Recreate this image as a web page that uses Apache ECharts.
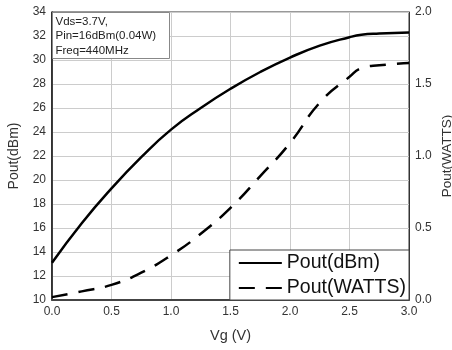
<!DOCTYPE html>
<html><head><meta charset="utf-8">
<script src="https://cdn.jsdelivr.net/npm/echarts@6/dist/echarts.min.js"></script>
<style>html,body{margin:0;padding:0;background:#fff}#c{width:452px;height:350px}</style>
</head><body><div id="c"></div>
<script>
const vg = [0, 0.25, 0.5, 0.75, 1.0, 1.25, 1.5, 1.75, 2.0, 2.25, 2.5, 2.6, 2.75, 3.0];
const poutDbm = [13.1, 16.4, 19.3, 21.9, 24.2, 26.0, 27.6, 29.0, 30.2, 31.2, 31.9, 32.1, 32.2, 32.3];
const poutWatts = [0.02, 0.06, 0.105, 0.19, 0.31, 0.46, 0.64, 0.86, 1.09, 1.37, 1.55, 1.61, 1.63, 1.645];
const annotation = ['Vds=3.7V,', 'Pin=16dBm(0.04W)', 'Freq=440MHz'];

const font = 'Liberation Sans, Arial, sans-serif';
const chart = echarts.init(document.getElementById('c'));
const lab = {color:'#333', fontSize:12, fontFamily:font};
chart.setOption({
  animation:false,
  grid:{left:52, right:43, top:12, bottom:50, containLabel:false, outerBoundsMode:'none', show:true, borderColor:'#333', borderWidth:1},
  xAxis:{type:'value', min:0, max:3, interval:0.5, name:'Vg (V)', nameLocation:'middle', nameGap:28,
    nameTextStyle:{fontSize:14.5, color:'#333', fontFamily:font}, nameMoveOverlap:false,
    axisLine:{lineStyle:{color:'#444', width:2}}, axisTick:{show:false},
    axisLabel:Object.assign({formatter:v=>v.toFixed(1), margin:6}, lab),
    splitLine:{lineStyle:{color:'#ccc', width:1}}},
  yAxis:[{type:'value', min:10, max:34, interval:2, name:'Pout(dBm)', nameLocation:'middle', nameGap:31,
    nameTextStyle:{fontSize:14, color:'#333', fontFamily:font}, nameMoveOverlap:false,
    axisLine:{show:true, lineStyle:{color:'#111', width:1.5}}, axisTick:{show:false},
    axisLabel:Object.assign({margin:6}, lab),
    splitLine:{lineStyle:{color:'#ccc', width:1}}},
   {type:'value', min:0, max:2, interval:0.5, name:'Pout(WATTS)', nameLocation:'middle', nameGap:31,
    nameTextStyle:{fontSize:13.5, color:'#333', fontFamily:font}, nameMoveOverlap:false,
    axisLine:{show:true, lineStyle:{color:'#333', width:1}}, axisTick:{show:false},
    axisLabel:Object.assign({formatter:v=>v.toFixed(1), margin:6}, lab),
    splitLine:{show:false}}],
  legend:{right:43, bottom:50, orient:'vertical', itemWidth:43, itemHeight:10, itemGap:5,
    backgroundColor:'#fff', borderColor:'#444', borderWidth:1, padding:[3,3,2,8],
    itemStyle:{opacity:0},
    textStyle:{fontSize:19.5, color:'#111', fontFamily:font, padding:[0,0,0,0]},
    data:['Pout(dBm)','Pout(WATTS)']},
  graphic:[{type:'group', left:52, top:12, z:100, children:[
    {type:'rect', z:100, shape:{x:0,y:0,width:117,height:46}, style:{fill:'#fff', stroke:'#888', lineWidth:1}},
    {type:'text', z:101, left:3, top:2, style:{text:annotation.join('\n'), fontSize:11.5, lineHeight:14.5, fill:'#222', fontFamily:font}}]}],
  series:[
    {name:'Pout(dBm)', type:'line', smooth:0.5, symbol:'none', yAxisIndex:0,
     data:vg.map((x,i)=>[x,poutDbm[i]]), lineStyle:{color:'#000', width:2.5}, itemStyle:{color:'#000'}},
    {name:'Pout(WATTS)', type:'line', smooth:0.5, symbol:'none', yAxisIndex:1,
     data:vg.map((x,i)=>[x,poutWatts[i]]), lineStyle:{color:'#000', width:2.5, type:[16,11]}, itemStyle:{color:'#000'}}
  ]
});
</script></body></html>
